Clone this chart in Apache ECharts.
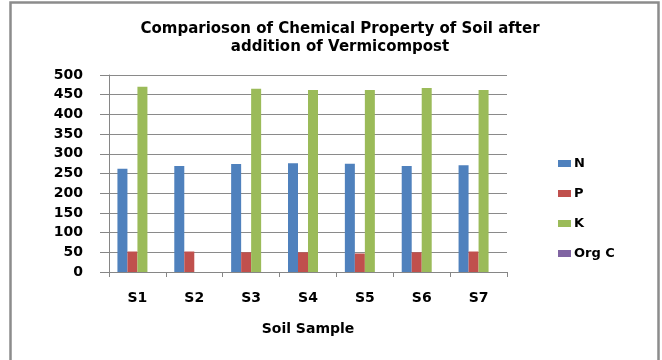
<!DOCTYPE html>
<html>
<head>
<meta charset="utf-8">
<script src="https://cdn.jsdelivr.net/npm/echarts@6/dist/echarts.min.js"></script>
<style>
html,body{margin:0;padding:0;background:#fff;}
#c{width:662px;height:360px;}
</style>
</head>
<body>
<div id="c"></div>
<script>
const categories = ['S1','S2','S3','S4','S5','S6','S7'];
const seriesNames = ['N','P','K','Org C'];
const nValues = [262, 269, 274, 276, 275, 269, 271];
const pValues = [52, 52, 50, 50, 47, 50, 52];
const kValues = [470, 0, 465, 462, 462, 467, 462];
const orgCValues = [0, 0, 0, 0, 0, 0, 0];
const yTicks = [0, 50, 100, 150, 200, 250, 300, 350, 400, 450, 500];

const colors = ['#4F81BD', '#C0504D', '#9BBB59', '#8064A2'];
const dataSets = [nValues, pValues, kValues, orgCValues];
const fontFam = '"DejaVu Sans", sans-serif';

const chart = echarts.init(document.getElementById('c'), null, {renderer: 'canvas'});
chart.setOption({
  backgroundColor: '#ffffff',
  animation: false,
  title: {
    text: 'Comparioson of Chemical Property of Soil after\naddition of Vermicompost',
    left: 335,
    textAlign: 'center',
    top: 15,
    textStyle: {fontFamily: fontFam, fontWeight: 'bold', fontSize: 15, color: '#000', lineHeight: 18}
  },
  graphic: [{
    type: 'rect',
    shape: {x: 10.5, y: 2.5, width: 648, height: 400},
    style: {fill: 'none', stroke: '#8c8c8c', lineWidth: 2.5},
    silent: true
  }],
  legend: {
    orient: 'vertical',
    left: 553,
    top: 152,
    itemWidth: 13,
    itemHeight: 7,
    itemGap: 17,
    icon: 'rect',
    data: seriesNames,
    textStyle: {fontFamily: fontFam, fontWeight: 'bold', fontSize: 13, color: '#000', padding: [0,0,0,-2]}
  },
  grid: {left: 109, right: 155, top: 75, bottom: 88},
  xAxis: {
    type: 'category',
    data: categories,
    name: 'Soil Sample',
    nameLocation: 'middle',
    nameGap: 50,
    nameTextStyle: {fontFamily: fontFam, fontWeight: 'bold', fontSize: 14, color: '#000'},
    axisLine: {lineStyle: {color: '#868686', width: 1}},
    axisTick: {show: true, length: 5, lineStyle: {color: '#868686'}},
    axisLabel: {fontFamily: fontFam, fontWeight: 'bold', fontSize: 14, color: '#000', margin: 19}
  },
  yAxis: {
    type: 'value',
    min: 0,
    max: 500,
    interval: 50,
    axisLine: {show: true, lineStyle: {color: '#868686', width: 1}},
    axisTick: {show: true, length: 9, lineStyle: {color: '#868686'}},
    splitLine: {show: true, lineStyle: {color: '#8a8a8a', width: 1}},
    axisLabel: {
      fontFamily: fontFam, fontWeight: 'bold', fontSize: 14, color: '#000', margin: 26,
      formatter: function (v) { return yTicks.indexOf(v) >= 0 ? String(v) : ''; }
    }
  },
  series: seriesNames.map((name, i) => ({
    name: name,
    type: 'bar',
    data: dataSets[i],
    barWidth: 10,
    barGap: '0%',
    itemStyle: {color: colors[i]}
  }))
});
</script>
</body>
</html>
